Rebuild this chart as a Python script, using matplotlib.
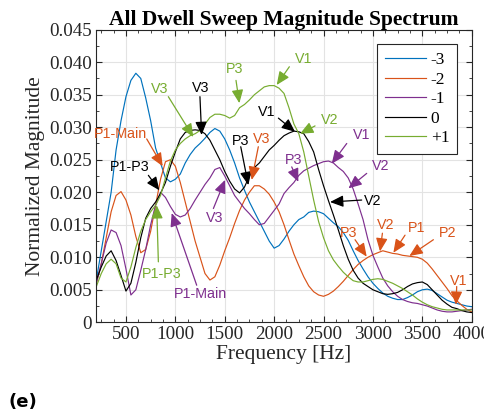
import matplotlib
matplotlib.use("Agg")
import matplotlib.pyplot as plt
from matplotlib.ticker import MultipleLocator, FixedLocator, FixedFormatter

freq = list(range(200, 4001, 50))

m3 = [0.0065, 0.0110, 0.0155, 0.0200, 0.0265, 0.0310, 0.0347, 0.0372, 0.0383, 0.0375,
      0.0345, 0.0310, 0.0268, 0.0245, 0.0222, 0.0216, 0.0220, 0.0228, 0.0245, 0.0258,
      0.0268, 0.0275, 0.0283, 0.0292, 0.0298, 0.0294, 0.0282, 0.0265, 0.0245, 0.0222,
      0.0203, 0.0185, 0.0170, 0.0155, 0.0140, 0.0125, 0.0114, 0.0118, 0.0128, 0.0140,
      0.0150, 0.0158, 0.0162, 0.0169, 0.0171, 0.0170, 0.0167, 0.0160, 0.0153, 0.0147,
      0.0138, 0.0126, 0.0110, 0.0095, 0.0082, 0.0070, 0.0060, 0.0052, 0.0045, 0.0040,
      0.0037, 0.0035, 0.0035, 0.0038, 0.0042, 0.0047, 0.0050, 0.0051, 0.0049, 0.0044,
      0.0039, 0.0034, 0.0031, 0.0029, 0.0027, 0.0025, 0.0024]

m2 = [0.0060, 0.0090, 0.0130, 0.0170, 0.0195, 0.0201, 0.0188, 0.0165, 0.0132, 0.0107,
      0.0112, 0.0140, 0.0180, 0.0220, 0.0247, 0.0250, 0.0240, 0.0215, 0.0185, 0.0155,
      0.0125, 0.0100, 0.0075, 0.0065, 0.0070, 0.0088, 0.0110, 0.0130, 0.0152, 0.0172,
      0.0188, 0.0200, 0.0210, 0.0210, 0.0205, 0.0197, 0.0185, 0.0170, 0.0150, 0.0127,
      0.0105, 0.0087, 0.0070, 0.0056, 0.0047, 0.0042, 0.0040, 0.0043, 0.0048, 0.0055,
      0.0063, 0.0072, 0.0081, 0.0089, 0.0095, 0.0100, 0.0104, 0.0107, 0.0110, 0.0108,
      0.0106, 0.0105, 0.0103, 0.0102, 0.0101, 0.0100, 0.0097, 0.0091, 0.0082, 0.0072,
      0.0062, 0.0052, 0.0041, 0.0033, 0.0026, 0.0020, 0.0016]

m1 = [0.0060, 0.0090, 0.0122, 0.0142, 0.0138, 0.0118, 0.0082, 0.0042, 0.0050, 0.0080,
      0.0112, 0.0150, 0.0180, 0.0200, 0.0192, 0.0178, 0.0166, 0.0162, 0.0165, 0.0175,
      0.0188, 0.0200, 0.0212, 0.0222, 0.0235, 0.0238, 0.0225, 0.0210, 0.0195, 0.0185,
      0.0175, 0.0167, 0.0158, 0.0150, 0.0152, 0.0162, 0.0172, 0.0182, 0.0198, 0.0207,
      0.0215, 0.0226, 0.0233, 0.0237, 0.0241, 0.0244, 0.0247, 0.0248, 0.0245, 0.0238,
      0.0232, 0.0222, 0.0205, 0.0182, 0.0158, 0.0127, 0.0103, 0.0085, 0.0068, 0.0056,
      0.0047, 0.0040, 0.0035, 0.0032, 0.0030, 0.0029, 0.0027, 0.0025, 0.0022, 0.0019,
      0.0017, 0.0016, 0.0016, 0.0017, 0.0018, 0.0019, 0.0020]

m0 = [0.0065, 0.0085, 0.0102, 0.0110, 0.0095, 0.0072, 0.0048, 0.0060, 0.0092, 0.0130,
      0.0160, 0.0175, 0.0185, 0.0198, 0.0215, 0.0240, 0.0262, 0.0282, 0.0292, 0.0295,
      0.0296, 0.0295, 0.0290, 0.0280, 0.0265, 0.0250, 0.0232, 0.0217, 0.0205, 0.0199,
      0.0208, 0.0225, 0.0238, 0.0245, 0.0255, 0.0265, 0.0272, 0.0280, 0.0287, 0.0291,
      0.0294, 0.0293, 0.0290, 0.0278, 0.0262, 0.0235, 0.0210, 0.0187, 0.0165, 0.0142,
      0.0118, 0.0097, 0.0080, 0.0068, 0.0060, 0.0055, 0.0050, 0.0047, 0.0044, 0.0043,
      0.0044, 0.0046, 0.0050, 0.0055, 0.0059, 0.0061, 0.0062, 0.0058, 0.0050, 0.0042,
      0.0034, 0.0028, 0.0023, 0.0021, 0.0018, 0.0016, 0.0015]

p1 = [0.0055, 0.0075, 0.0090, 0.0097, 0.0090, 0.0068, 0.0062, 0.0085, 0.0115, 0.0140,
      0.0158, 0.0170, 0.0180, 0.0195, 0.0222, 0.0248, 0.0265, 0.0275, 0.0282, 0.0287,
      0.0290, 0.0295, 0.0305, 0.0315, 0.0320, 0.0320, 0.0318, 0.0314, 0.0318, 0.0330,
      0.0335, 0.0342, 0.0350, 0.0356, 0.0362, 0.0364, 0.0364, 0.0360, 0.0352, 0.0330,
      0.0305, 0.0290, 0.0262, 0.0225, 0.0188, 0.0155, 0.0130, 0.0110, 0.0096, 0.0086,
      0.0077, 0.0070, 0.0064, 0.0062, 0.0062, 0.0064, 0.0066, 0.0067, 0.0066, 0.0063,
      0.0060, 0.0056, 0.0052, 0.0047, 0.0042, 0.0036, 0.0031, 0.0027, 0.0024, 0.0022,
      0.0020, 0.0019, 0.0019, 0.0019, 0.0019, 0.0019, 0.0019]

series_labels = ["-3", "-2", "-1", "0", "+1"]
series_values = [m3, m2, m1, m0, p1]
series_colors = ["#0072BD", "#D95319", "#7E2F8E", "#000000", "#77AC30"]

# (text, color, text position, arrow tail, arrow tip) in data units
annotations = [
    ("P1-Main", "#D95319", (440, 0.0289), (710, 0.0282), (872, 0.0240)),
    ("P1-P3", "#000000", (541, 0.0239), (727, 0.0226), (838, 0.0203)),
    ("P1-P3", "#77AC30", (861, 0.0074), (828, 0.0093), (811, 0.0180)),
    ("P1-Main", "#7E2F8E", (1250, 0.0044), (1216, 0.0057), (963, 0.0168)),
    ("V3", "#77AC30", (838, 0.0359), (929, 0.0347), (1182, 0.0285)),
    ("V3", "#000000", (1260, 0.0360), (1249, 0.0347), (1266, 0.0288)),
    ("P3", "#77AC30", (1604, 0.0389), (1614, 0.0372), (1648, 0.0337)),
    ("V1", "#77AC30", (2296, 0.0405), (2154, 0.0393), (2026, 0.0365)),
    ("V1", "#000000", (1925, 0.0323), (2043, 0.0314), (2211, 0.0293)),
    ("V2", "#77AC30", (2559, 0.0311), (2414, 0.0302), (2262, 0.0290)),
    ("P3", "#000000", (1665, 0.0279), (1662, 0.0270), (1739, 0.0211)),
    ("V3", "#D95319", (1874, 0.0282), (1840, 0.0270), (1773, 0.0219)),
    ("V3", "#7E2F8E", (1401, 0.0160), (1385, 0.0175), (1503, 0.0219)),
    ("P3", "#7E2F8E", (2195, 0.0250), (2178, 0.0239), (2245, 0.0216)),
    ("V1", "#7E2F8E", (2887, 0.0288), (2735, 0.0275), (2583, 0.0244)),
    ("V2", "#7E2F8E", (3079, 0.0240), (2937, 0.0229), (2752, 0.0206)),
    ("V2", "#000000", (2998, 0.0186), (2886, 0.0188), (2566, 0.0185)),
    ("P3", "#D95319", (2751, 0.0138), (2819, 0.0127), (2937, 0.0101)),
    ("V2", "#D95319", (3133, 0.0149), (3096, 0.0137), (3072, 0.0109)),
    ("P1", "#D95319", (3443, 0.0145), (3325, 0.0134), (3207, 0.0107)),
    ("P2", "#D95319", (3757, 0.0138), (3612, 0.0127), (3369, 0.0102)),
    ("V1", "#D95319", (3868, 0.0063), (3848, 0.0055), (3841, 0.0027)),
]

ytick_vals = [0, 0.005, 0.010, 0.015, 0.020, 0.025, 0.030, 0.035, 0.040, 0.045]
ytick_labels = ["0", "0.005", "0.010", "0.015", "0.020", "0.025", "0.030", "0.035", "0.040", "0.045"]
xtick_vals = [500, 1000, 1500, 2000, 2500, 3000, 3500, 4000]

serif = ["Liberation Serif", "DejaVu Serif"]
sans = ["Liberation Sans", "DejaVu Sans"]

fig = plt.figure(figsize=(4.85, 4.17), dpi=100)
ax = fig.add_axes([0.1986, 0.2271, 0.7740, 0.7017])

for lab, vals, col in zip(series_labels, series_values, series_colors):
    ax.plot(freq, vals, color=col, lw=0.85, label=lab)

for txt, col, tpos, tail, tip in annotations:
    ax.annotate("", xy=tip, xytext=tail,
                arrowprops=dict(arrowstyle="-|>,head_length=0.8,head_width=0.35",
                                color=col, lw=0.9, shrinkA=0, shrinkB=0))
    ax.text(tpos[0], tpos[1], txt, color=col, fontsize=10.3, family=sans,
            ha="center", va="center")

ax.set_xlim(200, 4000)
ax.set_ylim(0, 0.045)
ax.xaxis.set_major_locator(FixedLocator(xtick_vals))
ax.xaxis.set_minor_locator(MultipleLocator(125))
ax.yaxis.set_major_locator(FixedLocator(ytick_vals))
ax.yaxis.set_major_formatter(FixedFormatter(ytick_labels))
ax.yaxis.set_minor_locator(MultipleLocator(0.0025))
ax.grid(True, which="major", color="#e3e3e3", lw=0.8)
ax.set_axisbelow(True)
ax.tick_params(which="both", direction="in", top=True, right=True, color="#262626")
ax.tick_params(which="major", length=4, labelsize=13.8, labelcolor="#262626", pad=3)
ax.tick_params(which="minor", length=2.5)
for lab in ax.get_xticklabels() + ax.get_yticklabels():
    lab.set_family(serif)
for sp in ax.spines.values():
    sp.set_color("#262626")
    sp.set_linewidth(0.8)

ax.set_xlabel("Frequency [Hz]", fontsize=15.5, family=serif, color="#262626", labelpad=1)
ax.set_ylabel("Normalized Magnitude", fontsize=15.5, family=serif, color="#262626", labelpad=3)
ax.set_title("All Dwell Sweep Magnitude Spectrum", fontsize=15.5, family=serif,
             fontweight="bold", pad=3)

leg = ax.legend(loc="upper right", bbox_to_anchor=(0.961, 0.951), borderaxespad=0,
                frameon=True, fancybox=False, edgecolor="#262626", framealpha=1,
                prop={"family": serif, "size": 12.5}, handlelength=2.4,
                labelspacing=0.2, borderpad=0.45, handletextpad=0.25)
leg.get_frame().set_linewidth(0.8)

fig.text(8 / 485, 1 - 402 / 417, "(e)", fontsize=13, fontweight="bold",
         family=["DejaVu Sans"], ha="left", va="center")

fig.savefig("out.png", dpi=100)
